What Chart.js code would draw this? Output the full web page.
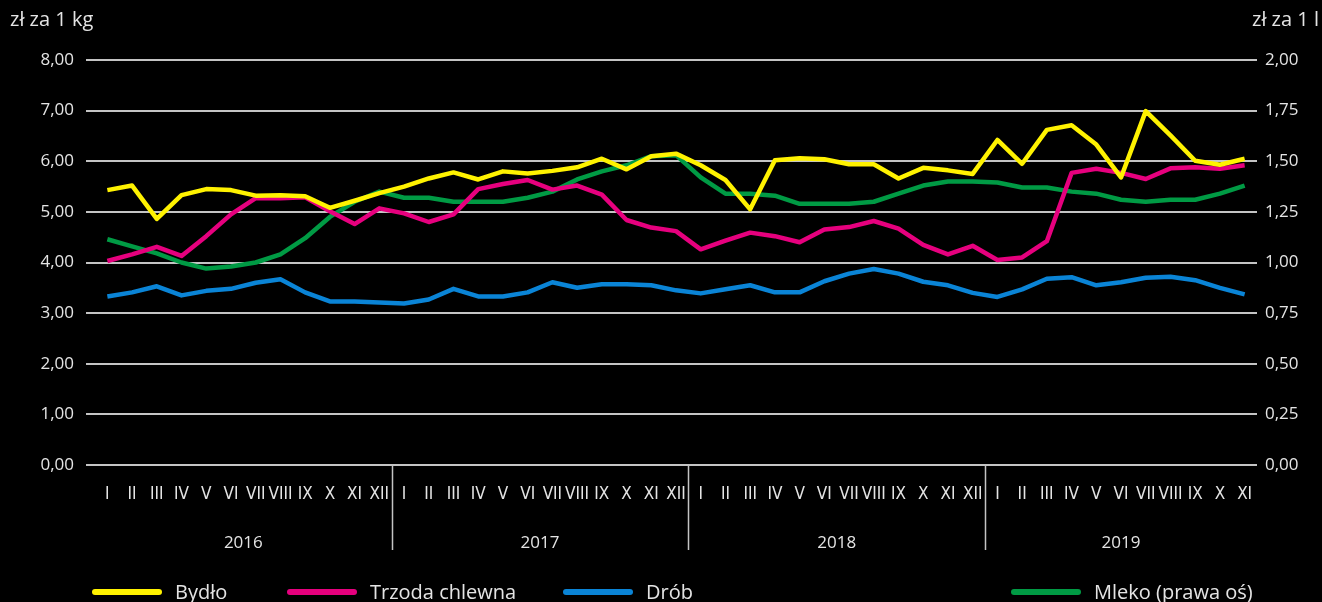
<!DOCTYPE html>
<html><head><meta charset="utf-8">
<script src="https://cdn.jsdelivr.net/npm/chart.js@4/dist/chart.umd.min.js"></script>
<style>html,body{margin:0;padding:0;background:#000;overflow:hidden}canvas{display:block}</style>
</head><body>
<canvas id="c" width="1322" height="602"></canvas>
<script>
const years = ['2016', '2017', '2018', '2019'];
const monthsPerYear = [12, 12, 12, 11];
const monthNames = ['I','II','III','IV','V','VI','VII','VIII','IX','X','XI','XII'];
const seriesNames = ['Bydło', 'Trzoda chlewna', 'Drób', 'Mleko (prawa oś)'];
const leftTitle = 'zł za 1 kg';
const rightTitle = 'zł za 1 l';

const bydlo = [5.43,5.52,4.86,5.33,5.45,5.43,5.32,5.33,5.31,5.08,5.22,5.37,
               5.50,5.66,5.78,5.64,5.80,5.76,5.81,5.88,6.05,5.84,6.10,6.15,
               5.92,5.63,5.05,6.02,6.06,6.04,5.94,5.94,5.66,5.87,5.82,5.75,
               6.42,5.95,6.62,6.71,6.33,5.68,6.99,6.51,6.01,5.93,6.05];
const trzoda = [4.03,4.16,4.31,4.13,4.52,4.95,5.27,5.27,5.29,5.01,4.76,5.07,
                4.97,4.80,4.95,5.45,5.55,5.63,5.44,5.52,5.34,4.84,4.69,4.62,
                4.26,4.43,4.59,4.52,4.40,4.65,4.70,4.82,4.67,4.35,4.16,4.33,
                4.05,4.10,4.42,5.77,5.85,5.77,5.65,5.86,5.88,5.85,5.92];
const drob = [3.33,3.41,3.53,3.35,3.44,3.48,3.60,3.67,3.41,3.23,3.23,3.21,
              3.19,3.27,3.48,3.33,3.33,3.41,3.61,3.50,3.57,3.57,3.55,3.45,
              3.39,3.47,3.55,3.41,3.41,3.63,3.78,3.87,3.78,3.62,3.55,3.40,
              3.32,3.47,3.68,3.71,3.55,3.61,3.70,3.72,3.65,3.50,3.37];
const mleko = [1.115,1.08,1.045,1.00,0.97,0.98,1.00,1.04,1.12,1.225,1.30,1.35,
               1.32,1.32,1.30,1.30,1.30,1.32,1.35,1.41,1.45,1.48,1.525,1.53,
               1.42,1.34,1.34,1.33,1.29,1.29,1.29,1.30,1.34,1.38,1.40,1.40,
               1.395,1.37,1.37,1.35,1.34,1.31,1.30,1.31,1.31,1.34,1.38];

const labels = [];
monthsPerYear.forEach(n => { for (let i = 0; i < n; i++) labels.push(monthNames[i]); });

const colors = ['#fff200', '#e6007e', '#0a84d6', '#009a44'];
const TEXT = '#e4e4e4';
const GRID = '#c4c4c4';
const FONT = "'Open Sans', 'Noto Sans', sans-serif";
const NARROW = "'DejaVu Sans Condensed', 'Liberation Sans Narrow', 'Open Sans', sans-serif";
const fmt = v => Number(v).toFixed(2).replace('.', ',');

const legendX = [95, 290, 566, 1014];

const extras = {
  id: 'extras',
  afterDraw(chart) {
    const ctx = chart.ctx, x = chart.scales.x, a = chart.chartArea;
    ctx.save();
    let start = 0;
    const bounds = [a.left];
    monthsPerYear.forEach((n, yi) => {
      const end = start + n;
      if (yi < monthsPerYear.length - 1) {
        const bx = (x.getPixelForValue(end - 1) + x.getPixelForValue(end)) / 2;
        bounds.push(bx);
        ctx.strokeStyle = GRID; ctx.lineWidth = 1.5;
        ctx.beginPath(); ctx.moveTo(Math.round(bx) + 0.5, a.bottom); ctx.lineTo(Math.round(bx) + 0.5, 550); ctx.stroke();
      } else bounds.push(a.right);
      start = end;
    });
    ctx.fillStyle = TEXT; ctx.font = "17px " + FONT; ctx.textAlign = 'center'; ctx.textBaseline = 'middle';
    years.forEach((y, i) => ctx.fillText(y, (bounds[i] + bounds[i + 1]) / 2, 543));
    ctx.font = "20px " + FONT; ctx.textAlign = 'left';
    ctx.fillText(leftTitle, 10, 20);
    ctx.fillText(rightTitle, 1252, 20);
    chart.data.datasets.forEach((ds, i) => {
      const lx = legendX[i];
      ctx.strokeStyle = ds.borderColor; ctx.lineWidth = 6; ctx.lineCap = 'round';
      ctx.beginPath(); ctx.moveTo(lx, 592); ctx.lineTo(lx + 64, 592); ctx.stroke();
      ctx.fillStyle = TEXT; ctx.font = "20px " + FONT; ctx.textAlign = 'left';
      ctx.fillText(ds.label, lx + 80, 593);
    });
    ctx.restore();
  }
};

new Chart(document.getElementById('c'), {
  type: 'line',
  data: {
    labels,
    datasets: [
      { label: seriesNames[0], data: bydlo, yAxisID: 'y' },
      { label: seriesNames[1], data: trzoda, yAxisID: 'y' },
      { label: seriesNames[2], data: drob, yAxisID: 'y' },
      { label: seriesNames[3], data: mleko, yAxisID: 'y1' }
    ].map((d, i) => Object.assign(d, { borderColor: colors[i], backgroundColor: colors[i], borderWidth: 4.5, pointRadius: 0, tension: 0, borderJoinStyle: 'round' }))
  },
  options: {
    responsive: false, animation: false, devicePixelRatio: 1,
    layout: { padding: { top: 60, left: 0, right: 0, bottom: 0 } },
    plugins: { legend: { display: false }, tooltip: { enabled: false } },
    scales: {
      x: {
        type: 'category', offset: true,
        grid: { display: false, drawTicks: false }, border: { display: false },
        ticks: { color: TEXT, font: { family: NARROW, size: 17 }, autoSkip: false, maxRotation: 0, minRotation: 0, padding: 19 },
        afterFit(s) { s.height = 137; }
      },
      y: {
        position: 'left', min: 0, max: 8,
        grid: { color: GRID, lineWidth: 2, tickLength: 9, drawTicks: true, tickColor: GRID },
        border: { display: false },
        ticks: { stepSize: 1, color: TEXT, font: { family: FONT, size: 17 }, padding: 12, callback: fmt },
        afterFit(s) { s.width = 95; }
      },
      y1: {
        position: 'right', min: 0, max: 2,
        grid: { display: false, drawTicks: false }, border: { display: false },
        ticks: { stepSize: 0.25, color: TEXT, font: { family: FONT, size: 17 }, padding: 8, callback: fmt },
        afterFit(s) { s.width = 65; }
      }
    }
  },
  plugins: [extras]
});
</script>
</body></html>
